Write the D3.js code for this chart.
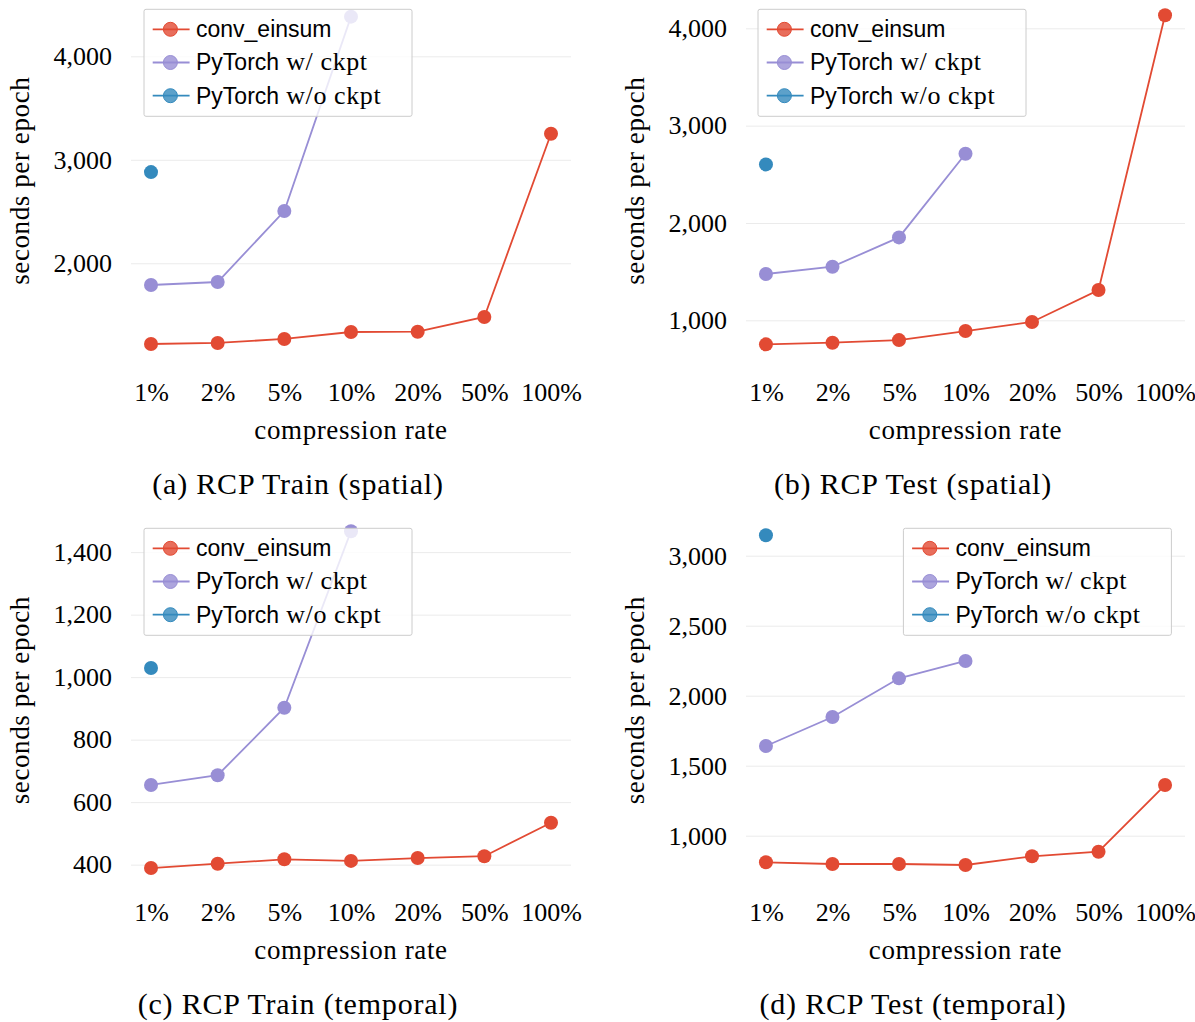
<!DOCTYPE html>
<html lang="en">
<head>
<meta charset="UTF-8">
<title>RCP timing</title>
<script src="https://cdn.jsdelivr.net/npm/d3@7"></script>
<style>
    body { margin: 0; background: #fff; }
    svg { display: block; }
    .serif { font-family: "Liberation Serif", "Times New Roman", serif; fill: #000; }
    .sans { font-family: "Liberation Sans", Arial, sans-serif; fill: #000; }
</style>
</head>
<body>
<svg id="chart" width="1195" height="1022"></svg>
<script>
// compression rates on the x axis
const rates = ["1%", "2%", "5%", "10%", "20%", "50%", "100%"]

// (a) RCP Train (spatial)
const trainSpatialConv = [1220, 1230, 1269, 1336, 1339, 1481, 3252]
const trainSpatialCkpt = [1790, 1819, 2505, 4383]
const trainSpatialNoCkpt = [2881]
const trainSpatialTicks = [2000, 3000, 4000]

// (b) RCP Test (spatial)
const testSpatialConv = [753, 770, 797, 890, 983, 1311, 4134]
const testSpatialCkpt = [1476, 1551, 1852, 2711]
const testSpatialNoCkpt = [2602]
const testSpatialTicks = [1000, 2000, 3000, 4000]

// (c) RCP Train (temporal)
const trainTemporalConv = [389, 403, 417, 412, 421, 427, 534]
const trainTemporalCkpt = [655, 686, 902, 1467]
const trainTemporalNoCkpt = [1029]
const trainTemporalTicks = [400, 600, 800, 1000, 1200, 1400]

// (d) RCP Test (temporal)
const testTemporalConv = [810, 798, 798, 791, 853, 886, 1362]
const testTemporalCkpt = [1641, 1848, 2124, 2248]
const testTemporalNoCkpt = [3146]
const testTemporalTicks = [1000, 1500, 2000, 2500, 3000]

const seriesNames = ["conv_einsum", "PyTorch", "PyTorch"]
const seriesSuffix = ["", " w/ ckpt", " w/o ckpt"]
const colors = ["#E24A33", "#988ED5", "#348ABD"]

const panels = [
    { caption: "(a) RCP Train (spatial)", left: 131, right: 571, top: 0, bottom: 361.5, domain: [1051, 4544],
      ticks: trainSpatialTicks, series: [trainSpatialConv, trainSpatialCkpt, trainSpatialNoCkpt], legend: [144, 9.3] },
    { caption: "(b) RCP Test (spatial)", left: 746, right: 1185, top: 0, bottom: 361.5, domain: [577, 4291],
      ticks: testSpatialTicks, series: [testSpatialConv, testSpatialCkpt, testSpatialNoCkpt], legend: [758, 9.3] },
    { caption: "(c) RCP Train (temporal)", left: 131, right: 571, top: 519, bottom: 881.5, domain: [346, 1506],
      ticks: trainTemporalTicks, series: [trainTemporalConv, trainTemporalCkpt, trainTemporalNoCkpt], legend: [144, 528.3] },
    { caption: "(d) RCP Test (temporal)", left: 746, right: 1185, top: 519, bottom: 881.5, domain: [673, 3262],
      ticks: testTemporalTicks, series: [testTemporalConv, testTemporalCkpt, testTemporalNoCkpt], legend: [903.4, 528.3] }
]

const svg = d3.select("#chart")
const fmt = d3.format(",")

panels.forEach(p => {
    const g = svg.append("g")
    const x = d3.scalePoint().domain(rates).range([p.left, p.right]).padding(0.3)
    const y = d3.scaleLinear().domain(p.domain).range([p.bottom, p.top])

    // y grid + labels
    const yAxis = g.append("g").attr("transform", `translate(${p.left},0)`)
        .call(d3.axisLeft(y).tickValues(p.ticks).tickFormat(fmt).tickSize(-(p.right - p.left)).tickPadding(19))
    yAxis.select(".domain").remove()
    yAxis.selectAll("line").attr("stroke", "#ebebeb").attr("stroke-width", 1)
    yAxis.selectAll("text").attr("class", "serif").attr("font-size", 26).attr("fill", "#000")
        .attr("font-family", null)

    // x labels
    const xAxis = g.append("g").attr("transform", `translate(0,${p.bottom})`)
        .call(d3.axisBottom(x).tickSize(0).tickPadding(21))
    xAxis.select(".domain").remove()
    xAxis.selectAll("text").attr("class", "serif").attr("font-size", 26).attr("fill", "#000")
        .attr("font-family", null)

    const cx = (p.left + p.right) / 2
    g.append("text").attr("class", "serif").attr("font-size", 27).attr("letter-spacing", 0.6)
        .attr("x", cx).attr("y", p.bottom + 77).attr("text-anchor", "middle")
        .text("compression rate")

    g.append("text").attr("class", "serif").attr("font-size", 27).attr("letter-spacing", 0.6)
        .attr("transform", `translate(${p.left - 111},${(p.top + p.bottom) / 2}) rotate(-90)`)
        .attr("text-anchor", "middle").attr("dominant-baseline", "central")
        .text("seconds per epoch")

    g.append("text").attr("class", "serif").attr("font-size", 30).attr("letter-spacing", 0.8)
        .attr("x", p.left + 167).attr("y", p.bottom + 132).attr("text-anchor", "middle")
        .text(p.caption)

    // series
    const line = d3.line().x((d, i) => x(rates[i])).y(d => y(d))
    p.series.forEach((vals, s) => {
        if (vals.length > 1) {
            g.append("path").datum(vals).attr("d", line)
                .attr("fill", "none").attr("stroke", colors[s]).attr("stroke-width", 1.8)
        }
        g.selectAll(null).data(vals).join("circle")
            .attr("cx", (d, i) => x(rates[i])).attr("cy", d => y(d))
            .attr("r", 7).attr("fill", colors[s])
    })

    // legend
    const [lx, ly] = p.legend
    const lg = g.append("g").attr("transform", `translate(${lx},${ly})`)
    lg.append("rect").attr("width", 268).attr("height", 107).attr("rx", 2)
        .attr("fill", "#fff").attr("fill-opacity", 0.8)
        .attr("stroke", "#cccccc").attr("stroke-width", 1)
    seriesNames.forEach((name, s) => {
        const ry = 20 + s * 33.2
        lg.append("line").attr("x1", 8.7).attr("x2", 45.6).attr("y1", ry).attr("y2", ry)
            .attr("stroke", colors[s]).attr("stroke-width", 1.8)
        lg.append("circle").attr("cx", 26.4).attr("cy", ry).attr("r", 7)
            .attr("fill", colors[s]).attr("fill-opacity", 0.8)
            .attr("stroke", colors[s]).attr("stroke-width", 1)
        const t = lg.append("text").attr("x", 52).attr("y", ry + 8)
        t.append("tspan").attr("class", "sans").attr("font-size", 23).text(name)
        if (seriesSuffix[s]) {
            t.append("tspan").attr("class", "serif").attr("font-size", 26).attr("letter-spacing", 0.6)
                .attr("xml:space", "preserve").text(seriesSuffix[s])
        }
    })
})
</script>
</body>
</html>
